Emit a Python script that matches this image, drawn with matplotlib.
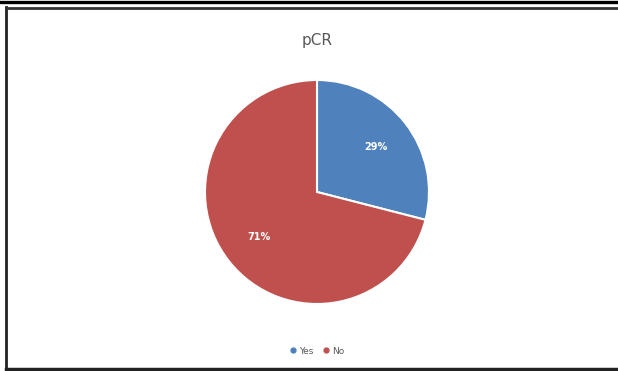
import matplotlib.pyplot as plt
from matplotlib.lines import Line2D

labels = ['Yes', 'No']
values = [29, 71]
colors = ['#4F81BD', '#C0504D']

W, H = 618, 371
fig = plt.figure(figsize=(W/100, H/100), dpi=100)

# frame around the chart
fig.add_artist(Line2D([0, 1], [1 - 1.5/H, 1 - 1.5/H], color='black', lw=2.4))
fig.add_artist(Line2D([6/W, 6/W], [1 - 7/H, 2/H], color='#222222', lw=2.0))
fig.add_artist(Line2D([6/W, 1], [1 - 7.5/H, 1 - 7.5/H], color='#333333', lw=2.0))
fig.add_artist(Line2D([6/W, 1], [2.5/H, 2.5/H], color='#222222', lw=2.5))

cx, cy, r = 317, 192, 112
ax = fig.add_axes([(cx - r)/W, (H - cy - r)/H, 2*r/W, 2*r/H])
wedges, texts, autotexts = ax.pie(values, colors=colors, startangle=90, counterclock=False,
                                  autopct='%1.0f%%', pctdistance=0.66, radius=1,
                                  wedgeprops=dict(edgecolor='white', linewidth=1.5))
for t in autotexts:
    t.set_color('white')
    t.set_fontsize(7)
    t.set_fontweight('bold')
ax.set_xlim(-1.0, 1.0)
ax.set_ylim(-1.0, 1.0)
ax.set_aspect('equal')
ax.axis('off')

fig.text(cx/W, 1 - 40/H, 'pCR', ha='center', va='center', fontsize=11, color='#595959')

handles = [Line2D([], [], marker='o', ls='', color=c, markersize=3.5) for c in colors]
fig.legend(handles, labels, loc='center', bbox_to_anchor=(cx/W, 1 - 351/H), ncol=2,
           frameon=False, fontsize=6.5, labelcolor='#595959', handlelength=0.8,
           handletextpad=0.3, columnspacing=1.0)

fig.savefig('out.png', dpi=100, facecolor='white')
